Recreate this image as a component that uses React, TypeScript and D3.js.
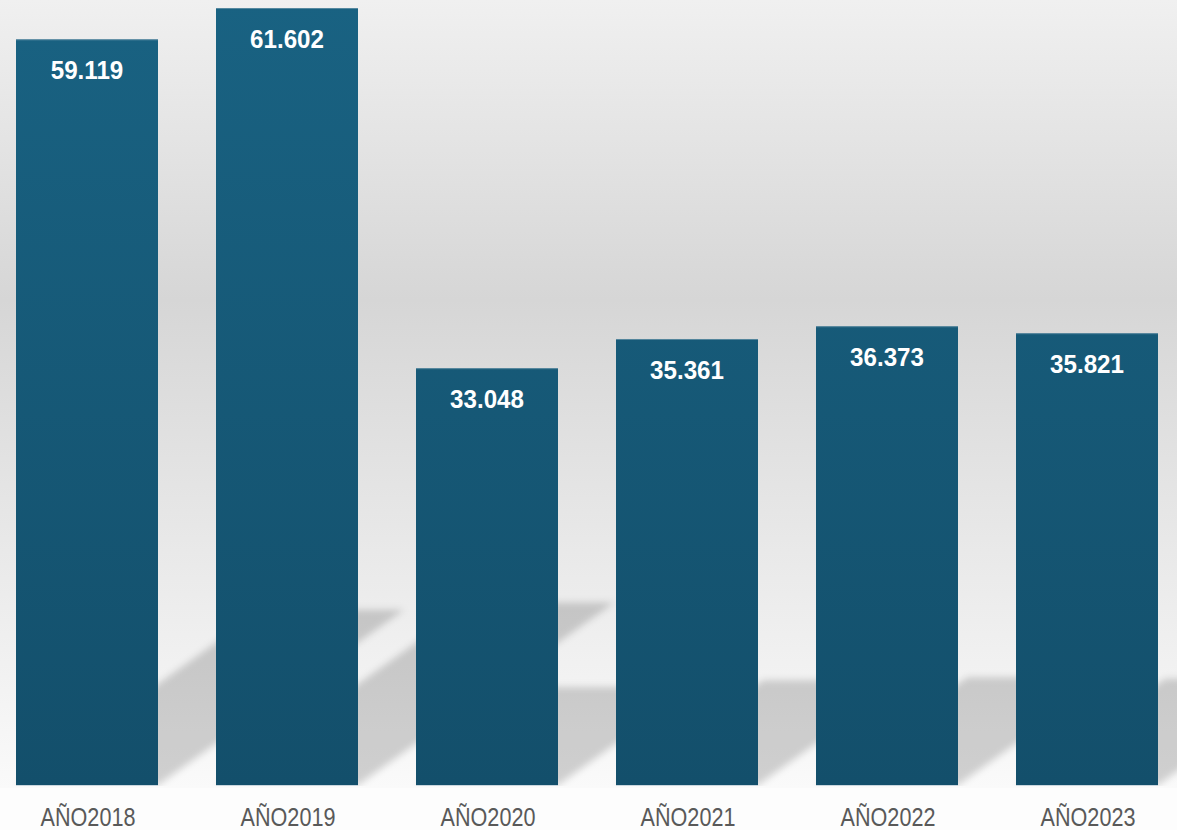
import React from "react";
import * as d3 from "d3";

const categories = ["AÑO2018", "AÑO2019", "AÑO2020", "AÑO2021", "AÑO2022", "AÑO2023"];
const values = [59119, 61602, 33048, 35361, 36373, 35821];
const valueLabels = ["59.119", "61.602", "33.048", "35.361", "36.373", "35.821"];

const W = 1177;
const H = 830;
const BASE = 785;

export default function App() {
  const x = d3
    .scaleBand<string>()
    .domain(categories)
    .range([-13, 1187])
    .paddingInner(0.29)
    .paddingOuter(0.145);
  const y = d3.scaleLinear().domain([0, 62000]).range([BASE, 3]);
  const bw = x.bandwidth();
  const k = 0.33;
  const s = 0.235;

  const shadowPath = (c: string, v: number) => {
    const x0 = x(c) as number;
    const x1 = x0 + bw;
    const h = y(0) - y(v);
    const p = d3.path();
    p.moveTo(x0, BASE);
    p.lineTo(x1, BASE);
    p.lineTo(x1 + k * h, BASE - s * h);
    p.lineTo(x0 + k * h, BASE - s * h);
    p.closePath();
    return p.toString();
  };

  return (
    <svg
      width={W}
      height={H}
      style={{ position: "fixed", left: 0, top: 0, display: "block" }}
      fontFamily="'Liberation Sans', Arial, sans-serif"
    >
      <defs>
        <linearGradient id="bg" x1="0" y1="0" x2="0" y2="1">
          <stop offset="0" stopColor="#f0f0f0" />
          <stop offset="0.38" stopColor="#d6d6d6" />
          <stop offset="0.7" stopColor="#e9e9e9" />
          <stop offset="1" stopColor="#fafafa" />
        </linearGradient>
        <linearGradient id="barg" gradientUnits="userSpaceOnUse" x1="0" y1={y(62000)} x2="0" y2={BASE}>
          <stop offset="0" stopColor="#196282" />
          <stop offset="1" stopColor="#134f6b" />
        </linearGradient>
        <filter id="blur" x="-20%" y="-20%" width="140%" height="140%">
          <feGaussianBlur stdDeviation="3.5" />
        </filter>
        <clipPath id="floor">
          <rect x={0} y={0} width={W} height={BASE + 1} />
        </clipPath>
      </defs>
      <rect x={0} y={0} width={W} height={H} fill="#fdfdfd" />
      <rect x={0} y={0} width={W} height={BASE + 3} fill="url(#bg)" />
      <g clipPath="url(#floor)">
        {categories.map((c, i) => (
          <path key={c} d={shadowPath(c, values[i])} fill="#000" fillOpacity={0.17} filter="url(#blur)" />
        ))}
      </g>
      {categories.map((c, i) => (
        <g key={c}>
          <rect
            x={x(c)}
            y={y(values[i])}
            width={bw}
            height={y(0) - y(values[i])}
            fill="url(#barg)"
          />
          <line x1={x(c)} x2={(x(c) as number) + bw} y1={y(values[i]) + 0.5} y2={y(values[i]) + 0.5} stroke="#6f98ad" strokeOpacity={0.7} />
          <line x1={x(c) as number} x2={(x(c) as number) + bw} y1={BASE + 0.5} y2={BASE + 0.5} stroke="#c9d6de" />
          <text
            transform={`translate(${(x(c) as number) + bw / 2},${y(values[i]) + 40}) scale(0.93,1)`}
            textAnchor="middle"
            fontSize={26}
            fontWeight="bold"
            fill="#ffffff"
          >
            {valueLabels[i]}
          </text>
          <text
            transform={`translate(${(x(c) as number) + bw / 2 + 1},826) scale(0.865,1)`}
            textAnchor="middle"
            fontSize={25}
            fill="#595959"
          >
            {c}
          </text>
        </g>
      ))}
    </svg>
  );
}
